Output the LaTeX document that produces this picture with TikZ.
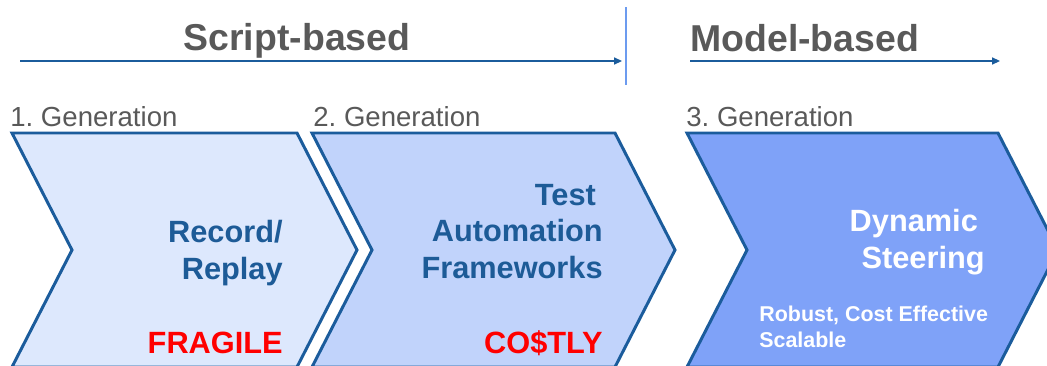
\documentclass[tikz,border=0pt]{standalone}
\usepackage{fontspec}
\setmainfont{Liberation Sans}
\usetikzlibrary{arrows, positioning, shapes}
\usetikzlibrary{arrows.meta}
\frenchspacing

\definecolor{chevline}{HTML}{1B5C9C}
\definecolor{chevtext}{HTML}{1D5B97}
\definecolor{fillone}{HTML}{DDE8FD}
\definecolor{filltwo}{HTML}{C1D3FB}
\definecolor{fillthree}{HTML}{7FA2F8}
\definecolor{headgray}{HTML}{595959}
\definecolor{sepblue}{HTML}{6C9BEF}
\definecolor{warnred}{HTML}{FF0000}

\begin{document}
\begin{tikzpicture}[x=0.02cm, y=-0.02cm,
  chev/.style={draw=chevline, line width=1.7pt, line join=miter},
  head/.style={inner sep=0pt, text=headgray, font=\fontsize{21.3}{25}\selectfont\bfseries},
  gen/.style={anchor=base west, inner sep=0pt, text=headgray, font=\fontsize{15.7}{18}\selectfont},
  title/.style={anchor=east, inner sep=0pt, align=right, text=chevtext, font=\fontsize{17.5}{20.7}\selectfont\bfseries},
  verdict/.style={anchor=base east, inner sep=0pt, text=warnred, font=\fontsize{17.5}{20.7}\selectfont\bfseries},
  era/.style={draw=chevline, line width=0.85pt, -{Triangle[length=4.5pt,width=4pt]}}]

\clip (0,0) rectangle (1047,365);

% era headings
\node[head, anchor=base] (script) at (297,50) {Script-based};
\node[head, anchor=base west] (model) at (690,51) {Model-based};

\coordinate (sa) at (20,61);
\coordinate (sb) at (622,61);
\coordinate (ma) at (690,61);
\coordinate (mb) at (1000,61);
\draw[era] (sa) -- (sb);
\draw[era] (ma) -- (mb);

\coordinate (septop) at (626,7);
\coordinate (sepbot) at (626,85);
\draw[sepblue, line width=0.6pt] (septop) -- (sepbot);

% generations
\node[gen] (gen1) at (10,126) {1. Generation};
\node[gen] (gen2) at (313,126) {2. Generation};
\node[gen] (gen3) at (686,126) {3. Generation};

\draw[chev, fill=fillone] (12,133) -- (297,133) -- (357,250) -- (297,367) -- (12,367) -- (72,250) -- cycle;
\draw[chev, fill=filltwo] (312,133) -- (615,133) -- (675,250) -- (615,367) -- (312,367) -- (372,250) -- cycle;
\draw[chev, fill=fillthree] (687,133) -- (998,133) -- (1058,250) -- (998,367) -- (687,367) -- (747,250) -- cycle;

\node[title] (record) at (283,253) {Record/\\Replay};
\node[verdict] (fragile) at (283,353) {FRAGILE};

\node[title] (testauto) at (603,231.5) {Test\kern0.22em\\Automation\\Frameworks};
\node[verdict] (costly) at (603,353) {CO\$TLY};

\node[title, text=white] (steering) at (985,242) {Dynamic\kern0.22em\\Steering};
\node[anchor=west, inner sep=0pt, align=left, text=white, font=\fontsize{12.2}{14.7}\selectfont\bfseries] (robust) at (759,327) {Robust, Cost Effective\\Scalable};

\end{tikzpicture}
\end{document}
